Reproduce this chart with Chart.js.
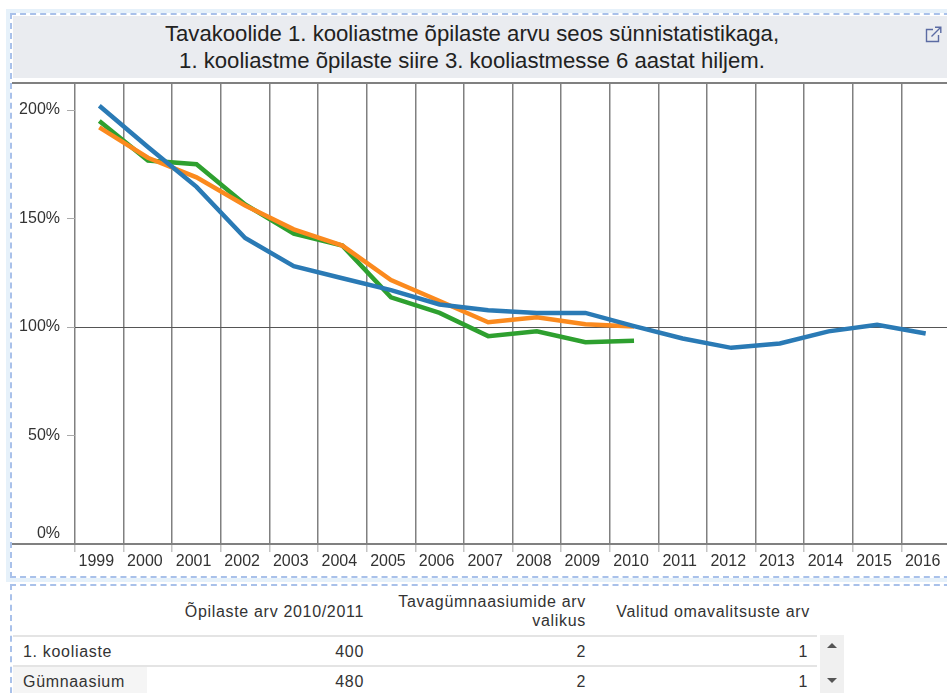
<!DOCTYPE html>
<html lang="et">
<head>
<meta charset="utf-8">
<title>Tavakoolide 1. kooliastme õpilaste arv</title>
<script src="https://cdn.jsdelivr.net/npm/chart.js@4"></script>
<style>
  html, body { margin: 0; padding: 0; width: 947px; height: 693px; overflow: hidden; background: #fff; }
  body { position: relative; font-family: "Liberation Sans", Arial, sans-serif; color: #333; }
  .abs { position: absolute; box-sizing: border-box; }
  #outer { left: 6px; top: 9px; width: 960px; height: 573px; background: #e6f1fa; }
  #frame { left: 10px; top: 13px; width: 960px; height: 565px; background: #fff; border: 2px dashed #a9c1ea; }
  #titlebar { left: 13px; top: 16px; width: 940px; height: 62px; background: #eaecf0; text-align: center;
    font-size: 22.15px; line-height: 27px; padding: 4px 22px 0 0; color: #222; }
  #topline { left: 12px; top: 82px; width: 940px; height: 2px; background: #808080; }
  #axisline { left: 12px; top: 543px; width: 940px; height: 2px; background: #808080; }
  #icon { left: 925px; top: 26px; width: 17px; height: 17px; }
  #chart { position: absolute; left: 13px; top: 84px; }
  #frame2 { left: 10px; top: 584px; width: 960px; height: 130px; border: 2px dashed #a9c1ea; }
  #tbl { position: absolute; left: 13px; top: 589px; border-collapse: collapse; table-layout: fixed; width: 804px;
    font-size: 16px; letter-spacing: 0.68px; color: #333; }
  #tbl th { font-weight: normal; text-align: right; padding: 0 9px 2px 0; height: 44px; line-height: 19px; border-bottom: 2px solid #e4e4e4; }
  #tbl th:last-child { padding-right: 7px; }
  #tbl td { text-align: right; padding: 2px 9px 0 0; height: 26px; border-bottom: 2px solid #e4e4e4; }
  #tbl td:first-child { text-align: left; padding-left: 10px; }
  #tbl tr:nth-child(2) td { border-bottom: none; }
  #tbl tr:nth-child(2) td:first-child { background: #f5f5f5; }
  #scroll { left: 820px; top: 635px; width: 24px; height: 60px; background: #f0f0f0; }
  #scroll svg { position: absolute; left: 6px; width: 12px; height: 8px; }
</style>
</head>
<body>
<div class="abs" id="outer"></div>
<div class="abs" id="frame"></div>
<div class="abs" id="titlebar">Tavakoolide 1. kooliastme õpilaste arvu seos sünnistatistikaga,<br>1. kooliastme õpilaste siire 3. kooliastmesse 6 aastat hiljem.</div>
<svg class="abs" id="icon" viewBox="0 0 17 17" fill="none" stroke="#5b6ba3" stroke-width="1.4">
  <path d="M8 3.5H1.5V15.5H13.5V9"/><path d="M6.5 10.5L15.5 1.5M10 1.2H15.8V7"/>
</svg>
<canvas id="chart" width="940" height="490"></canvas>
<div class="abs" id="topline"></div>
<div class="abs" id="axisline"></div>
<div class="abs" id="frame2"></div>
<table id="tbl">
  <colgroup><col style="width:134px"><col style="width:226px"><col style="width:222px"><col style="width:222px"></colgroup>
  <thead></thead><tbody></tbody>
</table>
<div class="abs" id="scroll">
  <svg style="top:7px" viewBox="0 0 12 8"><path d="M6 1L11 6H1Z" fill="#555"/></svg>
  <svg style="top:41px" viewBox="0 0 12 8"><path d="M6 7L11 2H1Z" fill="#555"/></svg>
</div>
<script>
// Andmed (loetud pildilt)
const years = ['1999', '2000', '2001', '2002', '2003', '2004', '2005', '2006', '2007', '2008', '2009', '2010', '2011', '2012', '2013', '2014', '2015', '2016'];
const seriesGreen = [195, 176.7, 175, 156.5, 143, 137.5, 113.7, 106.5, 95.8, 98, 93, 93.7];
const seriesOrange = [192, 178, 169, 156, 145, 137.5, 121.6, 112, 102.2, 104.5, 101.3, 100.2];
const seriesBlue = [202, 183, 164.6, 141, 128, 122.5, 117, 110.4, 107.7, 106.5, 106.5, 100.4, 94.7, 90.4, 92.4, 98, 101, 97];
const yTicks = [0, 50, 100, 150, 200];

const tableHeaders = ['', 'Õpilaste arv 2010/2011', 'Tavagümnaasiumide arv<br>valikus', 'Valitud omavalitsuste arv'];
const tableRowNames = ['1. kooliaste', 'Gümnaasium'];
const tableStudents = [400, 480];
const tableSchools = [2, 2];
const tableMunicipalities = [1, 1];

// --- Tabel ---
const tbl = document.getElementById('tbl');
tbl.tHead.innerHTML = '<tr>' + tableHeaders.map(h => `<th>${h}</th>`).join('') + '</tr>';
tbl.tBodies[0].innerHTML = tableRowNames.map((name, i) =>
  `<tr><td>${name}</td><td>${tableStudents[i]}</td><td>${tableSchools[i]}</td><td>${tableMunicipalities[i]}</td></tr>`
).join('');

// --- Graafik ---
const FONT = { family: '"Liberation Sans", Arial, sans-serif', size: 16, lineHeight: 1.25 };

function lineSet(label, data, color) {
  return { label, data, borderColor: color, backgroundColor: color, borderWidth: 4.5, pointRadius: 0, tension: 0, fill: false };
}

new Chart(document.getElementById('chart'), {
  type: 'line',
  data: {
    labels: years,
    datasets: [
      lineSet('Siire', seriesBlue, '#2a7ab5'),
      lineSet('Sünnistatistika', seriesOrange, '#fb8a1e'),
      lineSet('1. kooliaste', seriesGreen, '#2ea02f'),
    ],
  },
  options: {
    responsive: false,
    animation: false,
    layout: { padding: { left: 0, right: 3, top: 0, bottom: 0 } },
    plugins: { legend: { display: false }, title: { display: false }, tooltip: { enabled: false } },
    scales: {
      x: {
        offset: true,
        afterFit: (axis) => { axis.height = 30; },
        border: { display: false },
        grid: { offset: true, color: '#808080', lineWidth: 1.5, tickColor: '#c4c4c4', tickLength: 8 },
        ticks: { color: '#333', font: FONT, autoSkip: false, maxRotation: 0, padding: 0, labelOffset: -3 },
      },
      y: {
        min: 0,
        max: 212,
        afterBuildTicks: (axis) => { axis.ticks = yTicks.map(value => ({ value })); },
        afterFit: (axis) => { axis.width = 62; axis.paddingTop = 0; axis.paddingBottom = 0; },
        border: { display: false },
        grid: {
          color: (ctx) => (ctx.tick && ctx.tick.value === 100 ? '#555' : 'rgba(0,0,0,0)'),
          lineWidth: 1,
          tickColor: '#aaa',
          tickLength: 8,
        },
        ticks: {
          color: '#333',
          font: FONT,
          padding: 7,
          // 0% silt on teljejoonest kõrgemal
          callback: (val) => (val === 0 ? ['0%', ''] : val + '%'),
        },
      },
    },
  },
});
</script>
</body>
</html>
